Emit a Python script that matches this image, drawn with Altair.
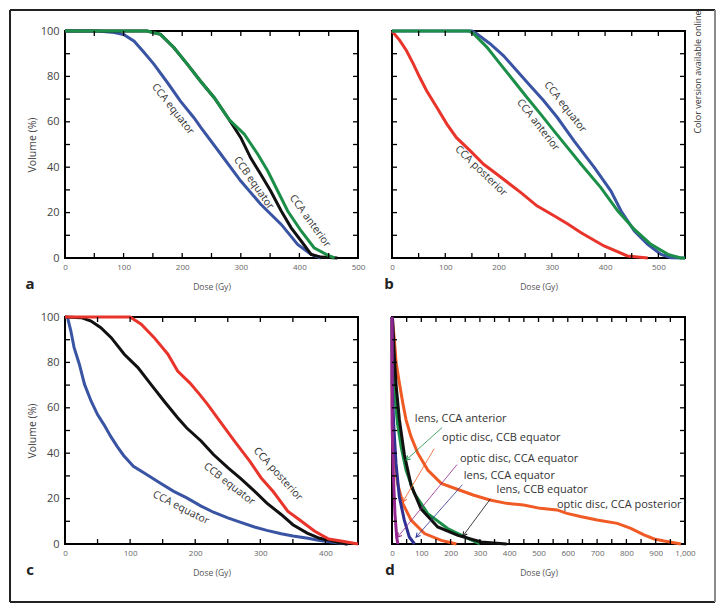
import math
import altair as alt
import pandas as pd

FONT = "Open Sans"
W, H = 293, 227

BLUE = "#3a54a4"
GREEN = "#1b8e47"
BLACK = "#111111"
RED = "#e8342a"
ORANGE = "#f05a24"
PURPLE = "#93278f"
DBLUE = "#2e3192"

# ---------------- panel a ----------------
a_eq_dose = [0, 55, 80, 100, 118, 135, 152, 175, 197, 220, 232, 266, 300, 334, 369, 397, 420, 437]
a_eq_vol = [100, 100, 99.5, 98.5, 95.5, 90.5, 85.3, 77.2, 69.1, 61.8, 57.4, 45.7, 33.9, 23.7, 14.8, 6, 1.6, 0]
a_ccb_dose = [0, 140, 163, 186, 209, 231, 255, 280, 300, 317, 334, 351, 369, 386, 403, 420, 437, 465]
a_ccb_vol = [100, 100, 98.5, 92.6, 85.3, 78, 70.5, 61, 53, 44, 36.9, 29.5, 20.7, 13.3, 7.5, 1.6, 0.4, 0]
a_ant_dose = [0, 140, 163, 186, 209, 231, 255, 280, 306, 329, 346, 363, 380, 403, 425, 448, 460]
a_ant_vol = [100, 100, 98.5, 92.6, 85.3, 78, 70.5, 61, 54.5, 45.7, 38.3, 29.5, 20.7, 11.9, 4.5, 1.3, 0]
a_lab_text = ["CCA equator", "CCB equator", "CCA anterior"]
a_lab_x = [184, 322, 418]
a_lab_y = [65.6, 33, 16.3]
a_lab_angle = [52, 55, 54]

# ---------------- panel b ----------------
b_post_dose = [0, 14.5, 27, 40, 52, 65, 84, 103, 121, 147, 172, 197, 222, 242, 272, 305, 330, 355, 398, 442, 480]
b_post_vol = [100, 95.9, 91.4, 85.5, 79.6, 73.7, 66.4, 59, 53, 47.2, 41.3, 36.9, 32.4, 28.8, 23, 18.5, 15, 11.1, 5.3, 0.9, 0]
b_eq_dose = [0, 150, 159, 184, 209, 234, 259, 284, 310, 342, 380, 411, 430, 455, 480, 505, 524, 550]
b_eq_vol = [100, 100, 98.8, 94.4, 89.2, 82.6, 76, 69.5, 62, 51.5, 39.8, 29.5, 20.7, 11.9, 6, 1.6, 0.1, 0]
b_ant_dose = [0, 145, 153, 178, 203, 228, 253, 279, 304, 330, 355, 392, 424, 455, 486, 518, 542, 550]
b_ant_vol = [100, 100, 98.8, 92.9, 85.5, 78.2, 70.8, 63.4, 56, 48.5, 41.3, 31, 20.7, 12.6, 6, 1.6, 0, 0]
b_lab_text = ["CCA equator", "CCA anterior", "CCA posterior"]
b_lab_x = [325, 274, 167]
b_lab_y = [66.5, 58.6, 38.3]
b_lab_angle = [52, 52, 44]

# ---------------- panel c ----------------
c_eq_dose = [0, 4, 9, 14, 22, 30, 40, 50, 60, 70, 80, 90, 105, 126, 146, 167, 187, 209, 228, 250, 270,
             291, 310, 332, 350, 373, 391, 404, 420, 434]
c_eq_vol = [100, 99.7, 93.8, 86.5, 79.2, 70.3, 63, 57, 52.5, 47.5, 43, 39, 34.2, 30.5, 26.9, 23.2, 20.3, 16.7,
            14, 11.5, 9.5, 7.5, 6, 4.5, 3.5, 2.5, 1.5, 1.1, 0.4, 0]
c_ccb_dose = [0, 25, 40, 55, 71, 91, 112, 132, 152, 173, 187, 209, 228, 250, 270, 291, 310, 332, 350, 372,
              391, 404, 420, 434]
c_ccb_vol = [100, 99.7, 98.2, 95.3, 90.9, 83.6, 77.7, 70.3, 63, 55.6, 51.1, 45.4, 39.4, 33.6, 28.8, 23.3, 18,
             13, 8.5, 4.8, 2.5, 1.8, 0.6, 0]
c_post_dose = [0, 100, 117, 137, 158, 173, 192, 207, 219, 238, 260, 284, 301, 320, 342, 360, 383, 405, 424, 450]
c_post_vol = [100, 100, 96.8, 90.9, 83.6, 76.2, 70.9, 65.8, 61.5, 54, 45.4, 36.4, 29.2, 23, 14.5, 10.7, 5.7,
              2.2, 1.3, 0]
c_lab_text = ["CCA posterior", "CCB equator", "CCA equator"]
c_lab_x = [327, 252, 178]
c_lab_y = [30.8, 26.4, 15.9]
c_lab_angle = [48, 38, 27]

# ---------------- panel d ----------------
d_odpost_dose = [0, 2, 8, 14, 25, 37, 48, 65, 88, 122, 168, 225, 277, 334, 391, 449, 506, 563, 597, 643, 700,
                 769, 815, 860, 895, 929, 986]
d_odpost_vol = [100, 98, 90, 80, 71, 62, 54.7, 47.3, 40, 32.6, 26.7, 24, 21.6, 19.4, 17.9, 17.2, 15.7, 15, 13.5,
                12.1, 10.6, 9.1, 6.9, 4, 2.2, 1.3, 0]
d_odccb_dose = [0, 0.5, 8, 19, 37, 65, 111, 168, 220]
d_odccb_vol = [100, 61, 38.5, 26.7, 17.8, 10.5, 4.6, 1.6, 0]
d_lensant_dose = [0, 0.5, 6, 10, 19, 31, 48, 76, 122, 190, 259, 300]
d_lensant_vol = [100, 86, 75, 65, 53, 43, 32.6, 22.3, 13.4, 6.8, 2.5, 0]
d_lensccb_dose = [0, 2, 8, 14, 25, 42, 65, 99, 156, 225, 305, 391]
d_lensccb_vol = [100, 99, 82.7, 70, 55, 39.5, 26, 15.5, 7.5, 3.8, 0.9, 0]
d_lenseq_dose = [0, 0.5, 5.7, 13.7, 25, 42, 59, 77]
d_lenseq_vol = [100, 71, 53, 35.5, 20.8, 10.5, 3.1, 0]
d_odeq_dose = [0, 0.3, 4.5, 10, 16, 20]
d_odeq_vol = [100, 53, 31, 13.4, 3, 0]
d_lab_text = ["lens, CCA anterior", "optic disc, CCB equator", "optic disc, CCA equator",
              "lens, CCA equator", "lens, CCB equator", "optic disc, CCA posterior"]
d_lab_x = [78, 171, 232, 245, 357, 563]
d_lab_y = [55.2, 46.9, 37.5, 30.1, 23.8, 17.4]
# annotation arrows (from label toward curve)
d_arr_x1 = [171, 144, 222, 240, 336]
d_arr_y1 = [51.3, 42, 35, 26.1, 19.9]
d_arr_x2 = [48, 37, 19, 82, 242]
d_arr_y2 = [37, 18.6, 3, 3, 3.5]
d_arr_color = [GREEN, ORANGE, PURPLE, DBLUE, BLACK]

Y_LABELS = [0, 20, 40, 60, 80, 100]
Y_TICKS = [10, 20, 30, 40, 50, 60, 70, 80, 90]


def line_df(dose, vol):
    return pd.DataFrame({"dose": dose, "vol": vol, "i": list(range(len(dose)))})


def make_panel(series, xmax, xstep_label, show_y, labels, letter, letter_x, label_align="center",
               label_size=10.5, extra=()):
    xs = alt.Scale(domain=[0, xmax], nice=False, zero=False)
    ys = alt.Scale(domain=[0, 100], nice=False)
    xlabels = list(range(0, xmax + 1, xstep_label))
    xticks = list(range(50, xmax, 50))
    xaxis = alt.Axis(values=xlabels, format=",d", title="Dose (Gy)", ticks=False, tickSize=0, domain=False,
                     grid=False, labelFont=FONT, labelFontSize=8, labelColor="#666666", labelPadding=5,
                     labelOverlap=False, labelFlush=False, titleFont=FONT, titleFontSize=8.5,
                     titleFontWeight="normal", titleColor="#555555", titlePadding=11)
    if show_y:
        yaxis = alt.Axis(values=Y_LABELS, title="Volume (%)", ticks=False, tickSize=0, domain=False, grid=False,
                         labelFont=FONT, labelFontSize=11, labelColor="#444444", labelPadding=6,
                         labelOverlap=False, labelFlush=False, titleFont=FONT, titleFontSize=10.5,
                         titleFontWeight="normal", titleColor="#444444", titlePadding=3)
    else:
        yaxis = None

    def X(f):
        return alt.X(f, scale=xs, axis=xaxis)

    def Y(f):
        return alt.Y(f, scale=ys, axis=yaxis)

    layers = []
    for dose, vol, color in series:
        layers.append(
            alt.Chart(line_df(dose, vol)).mark_line(color=color, strokeWidth=3).encode(
                x=X("dose:Q"), y=Y("vol:Q"), order="i:Q")
        )
    xt = pd.DataFrame({"t": xticks})
    yt = pd.DataFrame({"t": Y_TICKS})
    tick = dict(color="black", strokeWidth=1.3)
    layers.append(alt.Chart(xt).mark_rule(**tick).encode(x=X("t:Q"), y=alt.value(H), y2=alt.value(H - 5)))
    layers.append(alt.Chart(xt).mark_rule(**tick).encode(x=X("t:Q"), y=alt.value(0), y2=alt.value(5)))
    layers.append(alt.Chart(yt).mark_rule(**tick).encode(y=Y("t:Q"), x=alt.value(0), x2=alt.value(5)))
    layers.append(alt.Chart(yt).mark_rule(**tick).encode(y=Y("t:Q"), x=alt.value(W - 5), x2=alt.value(W)))
    # curve labels
    text_df, lx, ly, la = labels
    ldf = pd.DataFrame({"label": text_df, "x": lx, "y": ly, "a": la})
    layers.append(alt.Chart(ldf).mark_text(font=FONT, fontSize=label_size, color="#333333", align=label_align,
                                           baseline="middle").encode(
        x=X("x:Q"), y=Y("y:Q"), text="label:N", angle=alt.Angle("a:Q", scale=None)))
    # panel letter
    layers.append(alt.Chart(pd.DataFrame({"t": [letter]})).mark_text(
        font=FONT, fontSize=15, fontWeight="bold", color="#222222", align="center", baseline="alphabetic").encode(
        text="t:N", x=alt.value(letter_x), y=alt.value(H + 31)))
    for e in extra:
        layers.append(e(X, Y))
    return alt.layer(*layers).properties(width=W, height=H)


one = pd.DataFrame({"k": [0]})


def frame_layers(X, Y):
    fl = []
    fl.append(alt.Chart(one).mark_rule(color="#222222", strokeWidth=2).encode(
        x=alt.value(-55), x2=alt.value(650), y=alt.value(-21)))
    fl.append(alt.Chart(one).mark_rule(color="#222222", strokeWidth=2).encode(
        x=alt.value(-55), y=alt.value(-21), y2=alt.value(571)))
    fl.append(alt.Chart(one).mark_rule(color="#222222", strokeWidth=2).encode(
        x=alt.value(-55), x2=alt.value(650), y=alt.value(571)))
    fl.append(alt.Chart(one).mark_rule(color="#8a8a8a", strokeWidth=2).encode(
        x=alt.value(650), y=alt.value(-21), y2=alt.value(571)))
    fl.append(alt.Chart(pd.DataFrame({"t": ["Color version available online"]})).mark_text(
        font=FONT, fontSize=9, color="#333333", angle=270, align="center", baseline="middle").encode(
        text="t:N", x=alt.value(633), y=alt.value(41)))
    return alt.layer(*fl)


def arrows_layer(X, Y):
    sx = W / 1000.0
    sy = H / 100.0
    angs = []
    for x1, y1, x2, y2 in zip(d_arr_x1, d_arr_y1, d_arr_x2, d_arr_y2):
        dx = (x2 - x1) * sx
        dy = -(y2 - y1) * sy
        angs.append(math.degrees(math.atan2(-dx, dy)) % 360)
    adf = pd.DataFrame({"x1": d_arr_x1, "y1": d_arr_y1, "x2": d_arr_x2, "y2": d_arr_y2,
                        "c": d_arr_color, "ang": angs})
    rules = alt.Chart(adf).mark_rule(strokeWidth=0.8).encode(
        x=X("x1:Q"), y=Y("y1:Q"), x2="x2:Q", y2="y2:Q", color=alt.Color("c:N", scale=None))
    heads = alt.Chart(adf).mark_point(shape="M-0.55,-1L0,0L0.55,-1", filled=False, strokeWidth=1,
                                      size=70, opacity=1).encode(
        x=X("x2:Q"), y=Y("y2:Q"), color=alt.Color("c:N", scale=None), angle=alt.Angle("ang:Q", scale=None))
    return alt.layer(rules, heads)


pa = make_panel(
    [(a_eq_dose, a_eq_vol, BLUE), (a_ccb_dose, a_ccb_vol, BLACK), (a_ant_dose, a_ant_vol, GREEN)],
    500, 100, True, (a_lab_text, a_lab_x, a_lab_y, a_lab_angle), "a", -35, extra=(frame_layers,))
pb = make_panel(
    [(b_post_dose, b_post_vol, RED), (b_eq_dose, b_eq_vol, BLUE), (b_ant_dose, b_ant_vol, GREEN)],
    550, 100, False, (b_lab_text, b_lab_x, b_lab_y, b_lab_angle), "b", -3)
pc = make_panel(
    [(c_eq_dose, c_eq_vol, BLUE), (c_ccb_dose, c_ccb_vol, BLACK), (c_post_dose, c_post_vol, RED)],
    450, 100, True, (c_lab_text, c_lab_x, c_lab_y, c_lab_angle), "c", -35)
pdn = make_panel(
    [(d_odpost_dose, d_odpost_vol, ORANGE), (d_odccb_dose, d_odccb_vol, ORANGE),
     (d_lensant_dose, d_lensant_vol, GREEN), (d_lensccb_dose, d_lensccb_vol, BLACK),
     (d_lenseq_dose, d_lenseq_vol, DBLUE), (d_odeq_dose, d_odeq_vol, PURPLE)],
    1000, 100, False, (d_lab_text, d_lab_x, d_lab_y, [0] * len(d_lab_text)), "d", -2,
    label_align="left", label_size=11, extra=(arrows_layer,))

chart = (
    alt.concat(pa, pb, pc, pdn, columns=2, spacing={"row": 59, "column": 34}, bounds="flush")
    .properties(padding=0, background="white")
    .configure(font=FONT)
    .configure_view(stroke="black", strokeWidth=2)
)

chart.save("out.html", embed_options={"renderer": "svg", "actions": False})
